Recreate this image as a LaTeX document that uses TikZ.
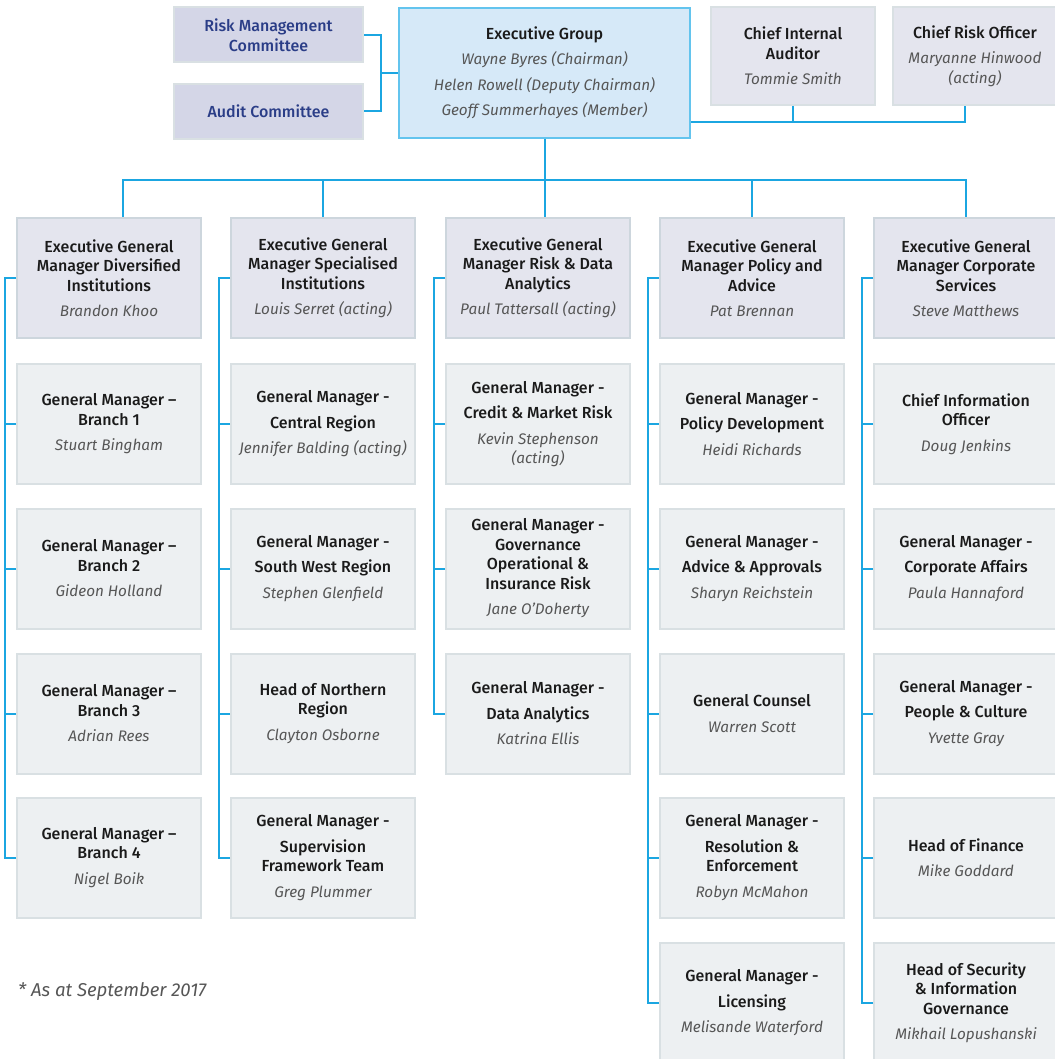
\documentclass[tikz,border=0pt]{standalone}
\usepackage{fontspec}
\setmainfont{Fira Sans}[BoldFont={Fira Sans Medium}]
\usetikzlibrary{calc}

\definecolor{linkblue}{RGB}{27,166,225}
\definecolor{execfill}{RGB}{214,233,248}
\definecolor{execline}{RGB}{99,196,238}
\definecolor{cmtfill}{RGB}{212,214,231}
\definecolor{cmttext}{RGB}{42,61,135}
\definecolor{egmfill}{RGB}{228,229,238}
\definecolor{egmline}{RGB}{205,214,221}
\definecolor{gmfill}{RGB}{237,240,242}
\definecolor{gmline}{RGB}{217,224,227}
\definecolor{titletext}{RGB}{26,26,26}
\definecolor{namegray}{RGB}{86,86,86}

\newcommand{\namefont}{\fontsize{15.3}{19.5}\selectfont\mdseries\itshape\color{namegray}}
\newcommand{\nm}[1]{\\[6pt]{\namefont #1}}
\newcommand{\nmx}[1]{\\{\namefont #1}}

\tikzset{
  box/.style={draw, line width=2pt, align=center, inner sep=0pt,
    font=\fontsize{16}{19.5}\selectfont\bfseries, text=titletext},
  egm/.style={box, draw=egmline, fill=egmfill, minimum width=184pt, minimum height=120pt},
  gm/.style={box, draw=gmline, fill=gmfill, minimum width=184pt, minimum height=120pt},
  cmt/.style={box, draw=gmline, fill=cmtfill, text=cmttext, minimum width=189pt, minimum height=55pt},
  chief/.style={box, draw=gmline, fill=egmfill, minimum width=164pt, minimum height=98pt},
  execbox/.style={box, draw=execline, fill=execfill, minimum width=291pt, minimum height=130pt},
  link/.style={draw=linkblue, line width=2pt},
  note/.style={font=\fontsize{18.6}{21}\selectfont\itshape, text=namegray, inner sep=0pt}
}

\begin{document}
\begin{tikzpicture}[x=1pt,y=-1pt]
\useasboundingbox (0,0) rectangle (1054,1059);

% board level
\node[cmt] (rmc) at (268.5,35) {Risk Management\\Committee};
\node[cmt] (ac) at (268.5,111.5) {Audit Committee};
\node[execbox] (exec) at (544.5,73) {Executive Group\nm{Wayne Byres (Chairman)}\nm{Helen Rowell (Deputy Chairman)}\nm{Geoff Summerhayes (Member)}};
\node[chief] (cia) at (793,56) {Chief Internal\\Auditor\nm{Tommie Smith}};
\node[chief] (cro) at (975,56) {Chief Risk Officer\nm{Maryanne Hinwood}\nmx{(acting)}};

% executive general managers
\node[egm] (e1) at (109,278) {Executive General\\Manager Diversified\\Institutions\nm{Brandon Khoo}};
\node[egm] (e2) at (323,278) {Executive General\\Manager Specialised\\Institutions\nm{Louis Serret (acting)}};
\node[egm] (e3) at (538,278) {Executive General\\Manager Risk \& Data\\Analytics\nm{Paul Tattersall (acting)}};
\node[egm] (e4) at (752,278) {Executive General\\Manager Policy and\\Advice\nm{Pat Brennan}};
\node[egm] (e5) at (966,278) {Executive General\\Manager Corporate\\Services\nm{Steve Matthews}};

% column 1
\node[gm] (g11) at (109,424) {General Manager –\\Branch 1\nm{Stuart Bingham}};
\node[gm] (g12) at (109,568.5) {General Manager –\\Branch 2\nm{Gideon Holland}};
\node[gm] (g13) at (109,713.5) {General Manager –\\Branch 3\nm{Adrian Rees}};
\node[gm] (g14) at (109,857.5) {General Manager –\\Branch 4\nm{Nigel Boik}};

% column 2
\node[gm] (g21) at (323,424) {General Manager -\\[6pt]Central Region\nm{Jennifer Balding (acting)}};
\node[gm] (g22) at (323,568.5) {General Manager -\\[6pt]South West Region\nm{Stephen Glenfield}};
\node[gm] (g23) at (323,713.5) {Head of Northern\\Region\nm{Clayton Osborne}};
\node[gm] (g24) at (323,857.5) {General Manager -\\[6pt]Supervision\\Framework Team\nm{Greg Plummer}};

% column 3
\node[gm] (g31) at (538,424) {General Manager -\\[6pt]Credit \& Market Risk\nm{Kevin Stephenson}\nmx{(acting)}};
\node[gm] (g32) at (538,568.5) {General Manager -\\Governance\\Operational \&\\Insurance Risk\nm{Jane O’Doherty}};
\node[gm] (g33) at (538,713.5) {General Manager -\\[6pt]Data Analytics\nm{Katrina Ellis}};

% column 4
\node[gm] (g41) at (752,424) {General Manager -\\[6pt]Policy Development\nm{Heidi Richards}};
\node[gm] (g42) at (752,568.5) {General Manager -\\[6pt]Advice \& Approvals\nm{Sharyn Reichstein}};
\node[gm] (g43) at (752,713.5) {General Counsel\nm{Warren Scott}};
\node[gm] (g44) at (752,857.5) {General Manager -\\[6pt]Resolution \&\\Enforcement\nm{Robyn McMahon}};
\node[gm] (g45) at (752,1003) {General Manager -\\[6pt]Licensing\nm{Melisande Waterford}};

% column 5
\node[gm] (g51) at (966,424) {Chief Information\\Officer\nm{Doug Jenkins}};
\node[gm] (g52) at (966,568.5) {General Manager -\\[6pt]Corporate Affairs\nm{Paula Hannaford}};
\node[gm] (g53) at (966,713.5) {General Manager -\\[6pt]People \& Culture\nm{Yvette Gray}};
\node[gm] (g54) at (966,857.5) {Head of Finance\nm{Mike Goddard}};
\node[gm] (g55) at (966,1003) {Head of Security\\\& Information\\Governance\nm{Mikhail Lopushanski}};

\node[note, anchor=base west] (asat) at (18,996) {* As at September 2017};

% committees and chiefs
\coordinate (cj) at ($(rmc.east)!.5!(ac.east)+(17,0)$);
\draw[link] (rmc.east) -| (cj) |- (ac.east);
\draw[link] (cj) -- (cj -| exec.west);
\coordinate (xr) at ([yshift=-49pt]exec.east);
\draw[link] (xr) -| ([xshift=-10pt]cro.south);
\draw[link] (cia.south) -- (cia.south |- xr);

% bus to the executive general managers
\coordinate (bus) at (544,180);
\draw[link] (exec.south) -- (exec.south |- e3.north);
\draw[link] ([xshift=14pt]e1.north) |- (bus) -| (e5.north);
\draw[link] (e2.north) -- (e2.north |- bus);
\draw[link] (e4.north) -- (e4.north |- bus);

% side rails
\foreach \c/\n in {1/4,2/4,3/3,4/5,5/5} {
  \draw[link] (e\c.west) -- ++(-11pt,0) |- (g\c\n.west);
  \foreach \r in {1,...,\n}
    \draw[link] (g\c\r.west) -- ++(-11pt,0);
}
\end{tikzpicture}
\end{document}
